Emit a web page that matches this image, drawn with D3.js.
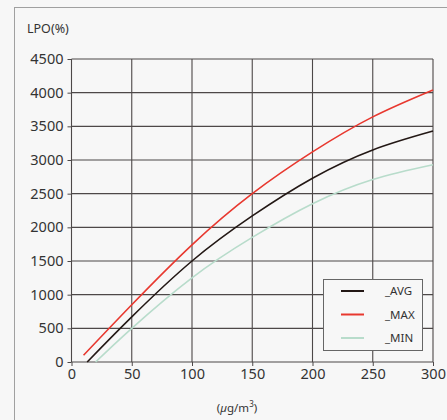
<!DOCTYPE html>
<html>
<head>
<meta charset="utf-8">
<title>LPO chart</title>
<script src="https://d3js.org/d3.v7.min.js"></script>
<style>
  body { margin: 0; background: #f7f7f7; }
  svg { display: block; font-family: "Noto Sans", "DejaVu Sans", sans-serif; }
</style>
</head>
<body>
<div id="chart"></div>
<script>
// data
var xTicks = [0, 50, 100, 150, 200, 250, 300];
var yTicks = [0, 500, 1000, 1500, 2000, 2500, 3000, 3500, 4000, 4500];

var avgX = [13, 50, 100, 150, 200, 250, 300];
var avgY = [0, 670, 1500, 2170, 2730, 3150, 3430];

var maxX = [10, 50, 100, 150, 200, 250, 300];
var maxY = [100, 850, 1740, 2500, 3120, 3640, 4040];

var minX = [20, 50, 100, 150, 200, 250, 300];
var minY = [0, 500, 1250, 1850, 2350, 2710, 2930];

var seriesNames = ["_AVG", "_MAX", "_MIN"];
var seriesColors = ["#231815", "#e8382f", "#b8dccb"];

var width = 447, height = 420;
var margin = {top: 59, right: 14, bottom: 58, left: 71.5};

var svg = d3.select("#chart").append("svg")
    .attr("width", width)
    .attr("height", height);

// outer frame
svg.append("rect")
    .attr("x", 14.5).attr("y", 7.5)
    .attr("width", 460).attr("height", 440)
    .attr("fill", "#f7f7f7")
    .attr("stroke", "#a0a0a0")
    .attr("stroke-width", 1);

var x = d3.scaleLinear().domain([0, 300]).range([margin.left, 433]);
var y = d3.scaleLinear().domain([0, 4500]).range([362, margin.top]);

// grid
var grid = svg.append("g").attr("stroke", "#4d4848").attr("stroke-width", 1.1);
grid.selectAll(".vx").data(xTicks).enter().append("line")
    .attr("x1", function(d) { return x(d); }).attr("x2", function(d) { return x(d); })
    .attr("y1", y(0)).attr("y2", y(4500));
grid.selectAll(".hy").data(yTicks).enter().append("line")
    .attr("x1", x(0)).attr("x2", x(300))
    .attr("y1", function(d) { return y(d); }).attr("y2", function(d) { return y(d); });

// axes
var xAxis = svg.append("g")
    .attr("transform", "translate(0," + y(0) + ")")
    .call(d3.axisBottom(x).tickValues(xTicks).tickFormat(d3.format("d")).tickSize(4).tickPadding(3));
var yAxis = svg.append("g")
    .attr("transform", "translate(" + x(0) + ",0)")
    .call(d3.axisLeft(y).tickValues(yTicks).tickFormat(d3.format("d")).tickSize(4).tickPadding(4));

[xAxis, yAxis].forEach(function(a) {
    a.select(".domain").remove();
    a.selectAll("line").attr("stroke", "#4d4848");
    a.selectAll("text")
        .attr("font-size", "14.5px")
        .attr("fill", "#333")
        .attr("font-family", "'Noto Sans', sans-serif");
});

// lines
var line = d3.line()
    .x(function(d) { return x(d[0]); })
    .y(function(d) { return y(d[1]); })
    .curve(d3.curveNatural);

var allSeries = [
    d3.zip(avgX, avgY),
    d3.zip(maxX, maxY),
    d3.zip(minX, minY)
];

// draw MIN first, then AVG, then MAX on top
[2, 0, 1].forEach(function(i) {
    svg.append("path")
        .datum(allSeries[i])
        .attr("fill", "none")
        .attr("stroke", seriesColors[i])
        .attr("stroke-width", 1.6)
        .attr("d", line);
});

// axis titles
svg.append("text")
    .attr("x", 27).attr("y", 33)
    .attr("font-size", "12.5px")
    .attr("fill", "#333")
    .text("LPO(%)");

svg.append("text")
    .attr("x", 237).attr("y", 412)
    .attr("text-anchor", "middle")
    .attr("font-size", "11.5px")
    .attr("fill", "#333")
    .html("(<tspan font-style='italic'>µ</tspan>g/m<tspan baseline-shift='super' font-size='8px'>3</tspan>)");

// legend
var legend = svg.append("g");
legend.append("rect")
    .attr("x", 323.5).attr("y", 279.5)
    .attr("width", 99).attr("height", 71)
    .attr("fill", "#f7f7f7")
    .attr("stroke", "#666")
    .attr("stroke-width", 1);

seriesNames.forEach(function(name, i) {
    var ly = 291 + i * 23.5;
    legend.append("line")
        .attr("x1", 341).attr("x2", 364)
        .attr("y1", ly).attr("y2", ly)
        .attr("stroke", seriesColors[i])
        .attr("stroke-width", 2);
    legend.append("text")
        .attr("x", 385).attr("y", ly + 4)
        .attr("font-size", "11.5px")
        .attr("fill", "#333")
        .text(name);
});
</script>
</body>
</html>
